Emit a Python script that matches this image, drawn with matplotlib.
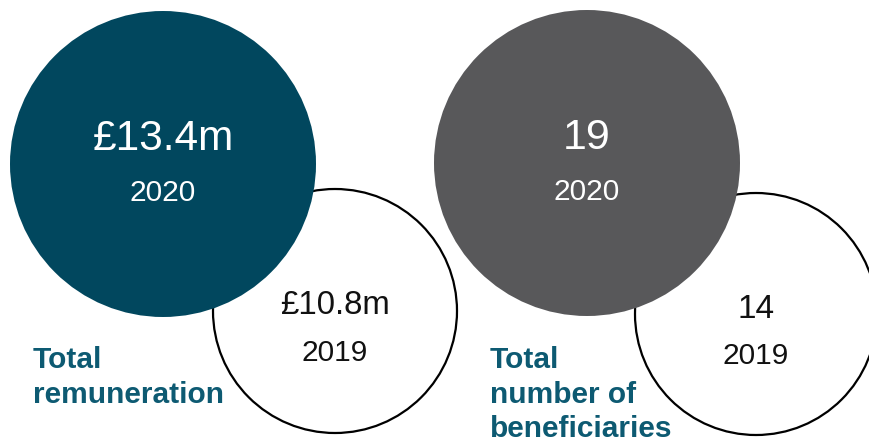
import matplotlib.pyplot as plt
from matplotlib.patches import Circle

plt.rcParams['font.family'] = ['Liberation Sans', 'DejaVu Sans']

# data
values_2020 = ['£13.4m', '19']
values_2019 = ['£10.8m', '14']
years = ['2020', '2019']
titles = ['Total\nremuneration', 'Total\nnumber of\nbeneficiaries']
fill_colors = ['#01475e', '#58585a']
title_color = '#0d5a72'

# layout (pixels)
big_c = [(163, 164), (587, 163)]
big_r = [153, 153]
small_c = [(335, 311), (756, 314)]
small_r = [122, 121]
title_pos = [(33, 346), (490, 346)]
value_fs = [30.5, 31]
small_fs = [23.8, 24]

fig = plt.figure(figsize=(8.69, 4.45), dpi=100)
ax = fig.add_axes([0, 0, 1, 1])
ax.set_xlim(0, 869)
ax.set_ylim(445, 0)
ax.set_aspect('equal')
ax.axis('off')

for i in range(2):
    # 2019 circle, outline only
    ax.add_patch(Circle(small_c[i], small_r[i], facecolor='white',
                        edgecolor='black', lw=1.6, zorder=1))
    # 2020 circle on top
    ax.add_patch(Circle(big_c[i], big_r[i], facecolor=fill_colors[i],
                        edgecolor='none', zorder=2))

    bx, by = big_c[i]
    ax.text(bx, by - 25, values_2020[i], color='white', fontsize=value_fs[i],
            ha='center', va='center', zorder=3)
    ax.text(bx, by + 29, years[0], color='white', fontsize=21.5,
            ha='center', va='center', zorder=3)

    sx, sy = small_c[i]
    ax.text(sx, sy - 5, values_2019[i], color='#111111', fontsize=small_fs[i],
            ha='center', va='center', zorder=3)
    ax.text(sx, sy + 42, years[1], color='#111111', fontsize=21.5,
            ha='center', va='center', zorder=3)

    ax.text(title_pos[i][0], title_pos[i][1], titles[i], color=title_color,
            fontsize=21.5, fontweight='bold', ha='left', va='top',
            linespacing=1.3, zorder=3)

fig.savefig('out.png', dpi=100)
